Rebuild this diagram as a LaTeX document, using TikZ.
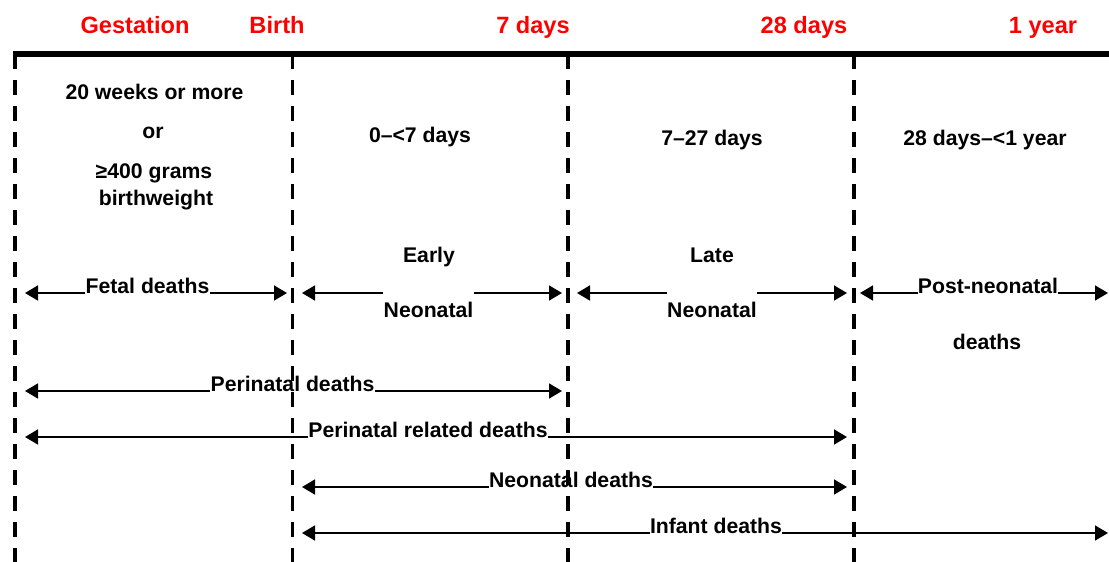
\documentclass[tikz,border=0pt]{standalone}
\usepackage{fontspec}
\setmainfont{Liberation Sans}
\usepackage{tikz}
\usetikzlibrary{arrows.meta,              % pointes de flèches
                calc}                     % calculs de coordonnées
\definecolor{rouge}{RGB}{255,0,0}
\tikzset{
  entete/.style={text=rouge,font=\fontsize{11.8}{14}\selectfont\bfseries,inner sep=0,anchor=base},
  etiq/.style={font=\fontsize{10.6}{13}\selectfont\bfseries,inner sep=0,anchor=base},
  tiret/.style={line width=1.75pt,dash pattern=on 7.5pt off 5.5pt},
  fleche/.style={line width=0.8pt,-{Triangle[length=6.5pt,width=7.5pt]}}
}

\begin{document}
\begin{tikzpicture}[x=0.5pt,y=-0.5pt]
\useasboundingbox (0,0) rectangle (1109,562);
% axe du temps
\coordinate (debut) at (13,54);
\coordinate (fin) at (1109,54);
\coordinate (bas) at (0,562);
\coordinate (gest) at (15,54);
\coordinate (birth) at (292.5,54);
\coordinate (d7) at (568,54);
\coordinate (d28) at (854,54);
\coordinate (gestR) at (25,0);
\coordinate (birthL) at (287,0);
\coordinate (birthR) at (302,0);
\coordinate (d7L) at (562,0);
\coordinate (d7R) at (577,0);
\coordinate (d28L) at (847,0);
\coordinate (d28R) at (860,0);
\coordinate (yrR) at (1108,0);
\draw[line width=2.75pt] (debut) -- (fin);
\foreach \c in {gest,birth,d7,d28}
  \draw[tiret] (\c) -- (\c |- bas);
\node[entete] (hgest) at (135,33) {Gestation};
\node[entete] (hbirth) at (277,33) {Birth};
\node[entete] (h7) at (533,33) {7 days};
\node[entete] (h28) at (804,33) {28 days};
\node[entete] (h1y) at (1043,33) {1 year};
% periodes
\node[etiq] (weeks) at (154.5,99) {20 weeks or more};
\node[etiq] (or) at (153,138) {or};
\node[etiq] (grams) at (154,178) {≥400 grams};
\node[etiq] (bw) at (156,205) {birthweight};
\node[etiq] (p1) at (420,142) {0–<7 days};
\node[etiq] (p2) at (712,145) {7–27 days};
\node[etiq] (p3) at (985,145) {28 days–<1 year};
\node[etiq] (early) at (429,262) {Early};
\node[etiq] (earlyneo) at (428.5,317) {Neonatal};
\node[etiq] (late) at (712,262) {Late};
\node[etiq] (lateneo) at (712,317) {Neonatal};
\node[etiq] (fetal) at (147.5,293) {Fetal deaths};
\node[etiq] (postneo) at (988,293) {Post-neonatal};
\node[etiq] (postd) at (987,349) {deaths};
\node[etiq] (peri) at (292.5,391) {Perinatal deaths};
\node[etiq] (perirel) at (428,437) {Perinatal related deaths};
\node[etiq] (neod) at (571,487) {Neonatal deaths};
\node[etiq] (inf) at (716,533) {Infant deaths};
% fleches
\draw[fleche] (fetal.base west) -- (gestR |- fetal.base);
\draw[fleche] (fetal.base east) -- (birthL |- fetal.base);
\draw[fleche] (earlyneo.west |- fetal.base) -- (birthR |- fetal.base);
\draw[fleche] (earlyneo.east |- fetal.base) -- (d7L |- fetal.base);
\draw[fleche] (lateneo.west |- fetal.base) -- (d7R |- fetal.base);
\draw[fleche] (lateneo.east |- fetal.base) -- (d28L |- fetal.base);
\draw[fleche] (postneo.base west) -- (d28R |- postneo.base);
\draw[fleche] (postneo.base east) -- (yrR |- postneo.base);
\draw[fleche] (peri.base west) -- (gestR |- peri.base);
\draw[fleche] (peri.base east) -- (d7L |- peri.base);
\draw[fleche] (perirel.base west) -- (gestR |- perirel.base);
\draw[fleche] (perirel.base east) -- (d28L |- perirel.base);
\draw[fleche] (neod.base west) -- (birthR |- neod.base);
\draw[fleche] (neod.base east) -- (d28L |- neod.base);
\draw[fleche] (inf.base west) -- (birthR |- inf.base);
\draw[fleche] (inf.base east) -- (yrR |- inf.base);
\end{tikzpicture}
\end{document}
